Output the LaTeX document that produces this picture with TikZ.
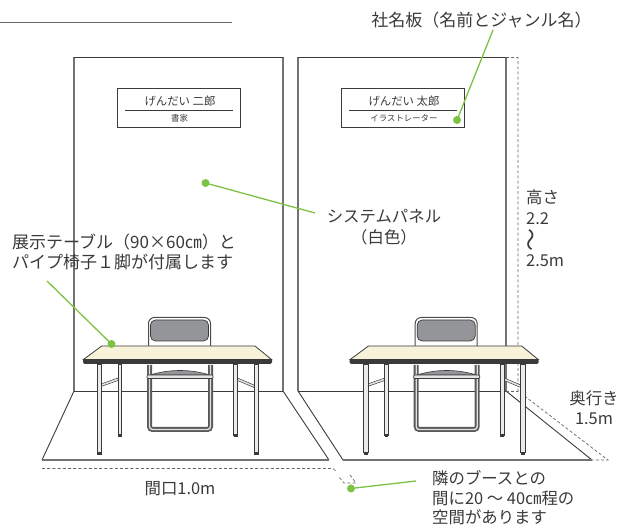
\documentclass[tikz,border=0pt]{standalone}
\usepackage{fontspec}
\setmainfont{Noto Sans CJK JP}
\definecolor{leader}{HTML}{7DC242}
\definecolor{ink}{HTML}{3A3A3A}
\definecolor{tabletop}{HTML}{F9F2DA}
\definecolor{backpad}{HTML}{939598}
\tikzset{
  x=1pt,y=-1pt,
  panelline/.style={draw=ink,line width=0.9pt},
  graywall/.style={draw=black!55,line width=1.2pt},
  dashline/.style={draw=black!60,line width=0.7pt,dash pattern=on 3pt off 2.2pt},
  leaderline/.style={draw=leader,line width=1.3pt},
  leaderdot/.style={circle,fill=leader,inner sep=0pt,minimum size=8pt},
  label/.style={text=ink,font=\fontsize{16.4}{19}\selectfont,inner sep=0pt,align=left},
  widelabel/.style={text=ink,font=\fontsize{17}{19}\selectfont,inner sep=0pt,align=left},
  platename/.style={text=ink,font=\fontsize{11.4}{13}\selectfont,inner sep=0pt},
  platesub/.style={text=ink,font=\fontsize{8.4}{10}\selectfont,inner sep=0pt},
  plate/.style={draw=ink,line width=0.8pt,fill=white},
  steel/.style={draw=ink,line width=0.6pt,fill=black!8},
  foot/.style={fill=ink},
  furniture/.pic={
    % chair frame
    \draw[draw=black!65,line width=5pt,rounded corners=3pt] (149.5,365) -- (149.5,429.5) -- (210.5,429.5) -- (210.5,365);
    \draw[draw=black!12,line width=1.4pt,rounded corners=3pt] (149.5,365) -- (149.5,429.5) -- (210.5,429.5) -- (210.5,365);
    \draw[draw=black!60,line width=0.7pt] (151.5,345) -- (151.5,362) (208.5,345) -- (208.5,362);
    % chair back
    \draw[draw=black!70,line width=1pt,fill=white,rounded corners=6pt] (148.5,346) -- (148.5,317.5) -- (210.5,317.5) -- (210.5,346);
    \draw[draw=ink,line width=0.7pt,fill=backpad,rounded corners=5pt] (150.5,341) rectangle (208.5,320);
    % chair seat
    \draw[draw=ink,line width=0.6pt,fill=backpad] (150,375) .. controls (170,369) and (190,369) .. (210,375) -- cycle;
    \draw[draw=ink,line width=0.7pt,fill=black!10,rounded corners=1pt] (147,375) rectangle (213,378.5);
    % braces
    \draw[draw=ink,line width=0.5pt,fill=black!10] (101,384) -- (118,378) -- (118,380.5) -- (101,386.5) -- cycle;
    \draw[draw=ink,line width=0.5pt,fill=black!10] (237.5,378) -- (254,385) -- (254,387.5) -- (237.5,380.5) -- cycle;
    % back legs
    \draw[steel] (118,364) rectangle (121.5,435);
    \fill[foot] (118,434) rectangle (121.5,437);
    \draw[steel] (233.5,364) rectangle (237.5,435);
    \fill[foot] (233.5,434) rectangle (237.5,437);
    % front legs
    \draw[steel] (97,364) rectangle (101.5,452);
    \fill[foot] (97,452) rectangle (101.5,455);
    \draw[steel] (254,364) rectangle (258.5,452);
    \fill[foot] (254,452) rectangle (258.5,455);
    % table
    \draw[draw=ink,line width=0.8pt,fill=tabletop] (101.7,346) -- (255,346) -- (271.5,359.5) -- (83.5,359.5) -- cycle;
    \fill[ink] (83,359.5) -- (272,359.5) -- (272,362.5) -- (270.5,364) -- (84.5,364) -- (83,362.5) -- cycle;
  }
}
\begin{document}
\begin{tikzpicture}
\useasboundingbox (0,0) rectangle (630,526);
% top rule
\coordinate (ruleA) at (0,22);
\coordinate (ruleB) at (232,22);
\draw[draw=black!60,line width=0.9pt] (ruleA) -- (ruleB);

% left booth
\draw[graywall] (74,391) -- (74,57.5);
\draw[graywall] (283,57.5) -- (283,391);
\draw[panelline] (74,57.5) -- (283,57.5);
\draw[panelline] (74,391) -- (283,391);
\draw[panelline] (74,391) -- (42,460);
\draw[panelline] (283,391) -- (329,460);
\draw[graywall] (42,460) -- (329,460);
\draw[dashline] (42,468.5) -- (333,468.5) -- (337,472);
% right booth
\draw[graywall] (298,391) -- (298,57.5);
\draw[graywall] (506,57.5) -- (506,391);
\draw[panelline] (298,57.5) -- (506,57.5);
\draw[panelline] (298,391) -- (506,391);
\draw[panelline] (298,391) -- (343,460);
\draw[panelline] (506,391) -- (592,460);
\draw[graywall] (343,460) -- (592,460);
% dashed depth and height
\draw[dashline] (506,57.5) -- (518,57.5) -- (518,391) -- (608,460) -- (592,460);
\draw[dashline] (506,391) -- (518,391);
\draw[dashline] (350,475) -- (356,483) -- (344,483) -- (338,476);

% plates
\node[plate,minimum width=123pt,minimum height=39pt,inner sep=0pt] (plateL) at (178.8,108) {};
\node[plate,minimum width=122.5pt,minimum height=39pt,inner sep=0pt] (plateR) at (402.8,108) {};
\coordinate (plateLa) at (125,110.3);
\coordinate (plateLb) at (233,110.3);
\coordinate (plateRa) at (349,110.3);
\coordinate (plateRb) at (456.5,110.3);
\draw[draw=ink,line width=0.7pt] (plateLa) -- (plateLb);
\draw[draw=ink,line width=0.7pt] (plateRa) -- (plateRb);
\node[platename] (nameL) at (180,101.5) {げんだい 二郎};
\node[platesub] (subL) at (179.5,118.5) {書家};
\node[platename] (nameR) at (404,101.5) {げんだい 太郎};
\node[platesub] (subR) at (404,118.5) {イラストレーター};

% furniture
\pic at (0,0) {furniture};
\pic at (266.7,0) {furniture};

% labels
\node[widelabel] (sign) at (481.5,20) {社名板（名前とジャンル名）};
\node[label,align=center] (sys) at (384,227) {システムパネル\\[2pt]（白色）};
\node[widelabel,anchor=west] (tab1) at (12,242) {展示テーブル（90×60㎝）と};
\node[widelabel,anchor=west] (tab2) at (12,262) {パイプ椅子１脚が付属します};
\node[label,anchor=west] (h1) at (526,197) {高さ};
\node[label,anchor=west] (h2) at (526,219) {2.2};
\node[label,rotate=90,scale=1.4] (h3) at (534,240) {〜};
\node[label,anchor=west] (h4) at (526,261) {2.5m};
\node[label] (d1) at (594,398) {奥行き};
\node[label] (d2) at (594,419) {1.5m};
\node[label] (w) at (180,489) {間口1.0m};
\node[label,anchor=west] (g1) at (432,478.5) {隣のブースとの};
\node[label,anchor=west] (g2) at (432,498.5) {間に20 〜 40㎝程の};
\node[label,anchor=west] (g3) at (432,517.5) {空間があります};

% leaders
\node[leaderdot] (dotSign) at (457,120) {};
\node[leaderdot] (dotPanel) at (205.5,183) {};
\node[leaderdot] (dotTable) at (111.5,344) {};
\node[leaderdot] (dotGap) at (351,488.5) {};
\coordinate (endSign) at (493,30);
\coordinate (endPanel) at (315,213);
\coordinate (endTable) at (47,281);
\coordinate (endGap) at (416,481);
\draw[leaderline] (endSign) -- (dotSign.center);
\draw[leaderline] (endPanel) -- (dotPanel.center);
\draw[leaderline] (endTable) -- (dotTable.center);
\draw[leaderline] (endGap) -- (dotGap.center);
\end{tikzpicture}
\end{document}
